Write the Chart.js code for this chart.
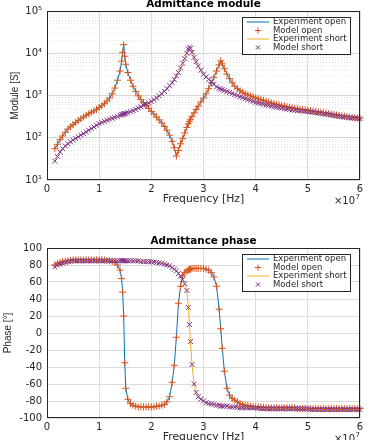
<!DOCTYPE html>
<html>
<head>
<meta charset="utf-8">
<script src="https://cdn.jsdelivr.net/npm/chart.js@4.4.0/dist/chart.umd.min.js"></script>
<style>
html, body { margin: 0; padding: 0; background: #fff; }
#wrap { position: relative; width: 367px; height: 440px; overflow: hidden; }
.box { position: absolute; left: 0; width: 367px; height: 220px; }
</style>
</head>
<body>
<div id="wrap">
  <div class="box" style="top:0"><canvas id="modChart" width="367" height="220"></canvas></div>
  <div class="box" style="top:220px"><canvas id="phaseChart" width="367" height="220"></canvas></div>
</div>
<script>
// frequency in units of 1e7 Hz
const freq = [0.15, 0.2, 0.25, 0.3, 0.35, 0.4, 0.45, 0.5, 0.55, 0.6,
  0.65, 0.7, 0.75, 0.8, 0.85, 0.9, 0.95, 1.0, 1.05, 1.1,
  1.15, 1.2, 1.25, 1.3,
  1.35, 1.4, 1.43, 1.45, 1.47, 1.49, 1.51, 1.55, 1.6, 1.65,
  1.7, 1.75, 1.8, 1.85, 1.9, 1.95, 2.0, 2.05, 2.1, 2.15,
  2.2, 2.25, 2.3, 2.35, 2.4, 2.44, 2.48, 2.52, 2.56, 2.6,
  2.64, 2.68, 2.71, 2.73, 2.75, 2.78, 2.82, 2.86, 2.9, 2.95,
  3.0, 3.05, 3.1, 3.15, 3.2, 3.25, 3.3, 3.33, 3.36, 3.4,
  3.45,
  3.5, 3.55, 3.6, 3.65, 3.7, 3.75, 3.8, 3.85, 3.9, 3.95,
  4.0, 4.05, 4.1, 4.15, 4.2, 4.25, 4.3, 4.35, 4.4, 4.45,
  4.5, 4.55, 4.6, 4.65, 4.7, 4.75, 4.8, 4.85, 4.9, 4.95,
  5.0, 5.05, 5.1, 5.15, 5.2, 5.25, 5.3, 5.35, 5.4, 5.45,
  5.5, 5.55, 5.6, 5.65, 5.7, 5.75, 5.8, 5.85, 5.9, 5.95,
  6.0];

// |Y| in S
const moduleOpen = [55, 70, 90, 110, 135, 160, 182, 205, 230, 255,
  282, 310, 340, 370, 400, 430, 470, 520, 575, 640,
  740, 870, 1100, 1500,
  2300, 3800, 6500, 10500, 16000, 8500, 5500, 3500, 2300, 1650,
  1250, 980, 800, 680, 580, 500, 420, 360, 310, 265,
  225, 185, 150, 115, 82, 58, 37, 50, 72, 95,
  130, 175, 215, 245, 275, 320, 390, 470, 560, 700,
  870, 1100, 1450, 2000, 2700, 3800, 5300, 6600, 5600, 4300,
  3200,
  2500, 2000, 1650, 1450, 1300, 1190, 1100, 1035, 980, 930,
  880, 840, 800, 765, 730, 700, 670, 645, 620, 600,
  580, 562, 545, 530, 515, 502, 490, 479, 468, 458,
  448, 438, 428, 418, 408, 399, 390, 381, 372, 363,
  355, 346, 338, 330, 322, 315, 308, 302, 297, 292,
  288];

const moduleShort = [28, 36, 46, 55, 64, 72, 80, 88, 96, 105,
  115, 125, 137, 150, 165, 180, 197, 215, 230, 245,
  260, 275, 290, 305,
  320, 340, 350, 358, 365, 372, 380, 395, 415, 440,
  470, 505, 540, 580, 620, 665, 720, 795, 880, 980,
  1100, 1260, 1450, 1700, 2000, 2400, 2900, 3500, 4500, 5800,
  7500, 10000, 12500, 14000, 13000, 10500, 8000, 6300, 5000, 3950,
  3200, 2750, 2400, 2100, 1850, 1600, 1480, 1420, 1360, 1300,
  1240,
  1180, 1110, 1050, 995, 940, 890, 840, 800, 760, 725,
  690, 665, 640, 620, 600, 582, 565, 547, 530, 515,
  500, 489, 478, 468, 458, 449, 440, 434, 428, 421,
  415, 407, 400, 392, 385, 377, 370, 362, 355, 345,
  335, 327, 320, 314, 308, 303, 298, 294, 290, 286,
  283];

// phase in degrees
const phaseOpen = [80, 82, 83, 84, 84.5, 85, 85.5, 86, 86, 86,
  86, 86, 86, 86, 86, 86, 86, 86, 86, 86,
  85.5, 85, 84, 83,
  80, 74, 64, 48, 20, -35, -65, -78, -83, -85,
  -86, -87, -87, -87, -87, -87, -87, -87, -86, -86,
  -85, -84, -81, -75, -58, -38, -5, 35, 55, 67,
  71, 73, 74, 75, 75, 76, 76, 76, 76, 76,
  76, 75, 74, 71, 66, 55, 28, 5, -18, -45,
  -65,
  -73, -77, -79, -81, -83, -84, -85, -85.5, -86, -86.5,
  -87, -87, -87, -87.5, -88, -88, -88, -88, -88, -88,
  -88, -88, -88, -88, -88, -88, -89, -89, -89, -89,
  -89, -89, -89, -89, -89, -89, -89, -89, -89, -89,
  -89, -89, -89, -89, -89, -89, -89, -89, -89, -89,
  -89];

const phaseShort = [78, 80, 81, 82, 83, 84, 84.5, 85, 85, 85,
  85, 85, 85, 85, 85, 85, 85, 85, 85, 85,
  85, 85, 85, 85,
  85, 85, 85, 85, 85, 85, 85, 85, 85, 85,
  85, 85, 84, 84, 84, 84, 84, 83.5, 83, 82.5,
  82, 81, 80, 79, 77, 75, 73, 70, 67, 63,
  58, 50, 30, 10, -10, -37, -60, -70, -75, -78,
  -80, -82, -83, -83.5, -84, -85, -85, -86, -86, -86,
  -86,
  -87, -87, -87, -87.5, -88, -88, -88, -88, -88, -88,
  -88, -88.5, -89, -89, -89, -89, -89, -89, -89, -89,
  -89, -89, -89, -89, -89, -89, -89, -89, -89, -89,
  -89, -90, -90, -90, -90, -90, -90, -90, -90, -90,
  -90, -90, -90, -90, -90, -90, -90, -90, -90, -90,
  -90];

const xTicks = [0, 1, 2, 3, 4, 5, 6];
const moduleDecades = [10, 100, 1000, 10000, 100000];
const phaseTicks = [-100, -80, -60, -40, -20, 0, 20, 40, 60, 80, 100];

const fontFam = '"DejaVu Sans", sans-serif';
const textCol = '#262626';
const sup = ['\u2070', '\u00b9', '\u00b2', '\u00b3', '\u2074', '\u2075'];

function pts(ys) {
  return freq.map((f, i) => ({ x: f, y: ys[i] }));
}

function makeDatasets(open, short) {
  return [
    { label: 'Experiment open', data: pts(open), borderColor: '#0072BD', borderWidth: 1,
      pointRadius: 0, order: 4 },
    { label: 'Model open', data: pts(open), borderColor: '#D95319', showLine: false,
      pointStyle: 'cross', pointRadius: 3.5, pointBorderWidth: 1, order: 3, clip: false },
    { label: 'Experiment short', data: pts(short), borderColor: '#EDB120', borderWidth: 1,
      pointRadius: 0, order: 2 },
    { label: 'Model short', data: pts(short), borderColor: '#7E2F8E', showLine: false,
      pointStyle: 'crossRot', pointRadius: 3.5, pointBorderWidth: 1, order: 1, clip: false }
  ];
}

// title, axis labels, box and matlab-like legend
const decor = {
  id: 'decor',
  afterDraw(chart, args, o) {
    const ctx = chart.ctx;
    const a = chart.chartArea;
    const cx = (a.left + a.right) / 2;
    ctx.save();
    ctx.strokeStyle = textCol;
    ctx.lineWidth = 1;
    ctx.strokeRect(Math.round(a.left) + 0.5, Math.round(a.top) + 0.5,
      Math.round(a.right - a.left) - 1, Math.round(a.bottom - a.top) - 1);

    ctx.textBaseline = 'middle';
    ctx.textAlign = 'center';
    ctx.fillStyle = '#000';
    ctx.font = 'bold 10.4px ' + fontFam;
    ctx.fillText(o.title, cx, a.top - 7);

    ctx.fillStyle = textCol;
    ctx.font = '10.8px ' + fontFam;
    ctx.fillText('Frequency [Hz]', cx, a.bottom + 19);

    ctx.textAlign = 'right';
    ctx.font = '10px ' + fontFam;
    ctx.fillText('\u00d710', a.right - 5, a.bottom + 21);
    ctx.font = '7px ' + fontFam;
    ctx.fillText('7', a.right, a.bottom + 17);

    // legend
    const lx = a.right - 118, ly = a.top + 6, lw = 108, lh = 37;
    ctx.fillStyle = '#fff';
    ctx.fillRect(lx, ly, lw, lh);
    ctx.strokeStyle = textCol;
    ctx.strokeRect(lx + 0.5, ly + 0.5, lw, lh);
    ctx.font = '8.5px ' + fontFam;
    ctx.textAlign = 'left';
    chart.data.datasets.forEach((ds, i) => {
      const y = ly + 5 + i * 8.5;
      ctx.strokeStyle = ds.borderColor;
      ctx.lineWidth = 1;
      ctx.beginPath();
      if (ds.showLine === false) {
        const mx = lx + 16, r = 3;
        if (ds.pointStyle === 'cross') {
          ctx.moveTo(mx - r, y); ctx.lineTo(mx + r, y);
          ctx.moveTo(mx, y - r); ctx.lineTo(mx, y + r);
        } else {
          ctx.moveTo(mx - r * 0.7, y - r * 0.7); ctx.lineTo(mx + r * 0.7, y + r * 0.7);
          ctx.moveTo(mx - r * 0.7, y + r * 0.7); ctx.lineTo(mx + r * 0.7, y - r * 0.7);
        }
      } else {
        ctx.moveTo(lx + 5, y); ctx.lineTo(lx + 27, y);
      }
      ctx.stroke();
      ctx.fillStyle = textCol;
      ctx.fillText(ds.label, lx + 31, y);
    });

    ctx.translate(o.ylabX, (a.top + a.bottom) / 2);
    ctx.rotate(-Math.PI / 2);
    ctx.textAlign = 'center';
    ctx.font = '10px "Liberation Sans Narrow", "Liberation Sans", sans-serif';
    ctx.fillStyle = textCol;
    ctx.fillText(o.ylabel, 0, 0);
    ctx.restore();
  }
};

function xScale(h) {
  return {
    type: 'linear', min: 0, max: 6,
    afterBuildTicks: s => { s.ticks = xTicks.map(v => ({ value: v })); },
    afterFit: s => { s.height = h; },
    ticks: { color: textCol, font: { family: fontFam, size: 10 }, padding: 3, maxRotation: 0 },
    grid: { color: '#dcdcdc', drawTicks: false },
    border: { display: false }
  };
}

const isDecade = v => Math.abs(Math.log10(v) - Math.round(Math.log10(v))) < 1e-9;

new Chart(document.getElementById('modChart'), {
  type: 'line',
  data: { datasets: makeDatasets(moduleOpen, moduleShort) },
  options: {
    responsive: false,
    animation: false,
    events: [],
    layout: { padding: { top: 10, right: 7, left: 0, bottom: 0 } },
    plugins: {
      legend: { display: false },
      tooltip: { enabled: false },
      decor: { title: 'Admittance module', ylabel: 'Module [S]', ylabX: 15 }
    },
    scales: {
      x: xScale(40),
      y: {
        type: 'logarithmic', min: 10, max: 100000,
        afterBuildTicks: s => {
          const t = [];
          moduleDecades.forEach((d, i) => {
            if (i === moduleDecades.length - 1) { t.push({ value: d }); return; }
            for (let k = 1; k <= 9; k++) t.push({ value: d * k });
          });
          s.ticks = t;
        },
        afterFit: s => { s.width = 47; },
        ticks: {
          autoSkip: false, color: textCol, padding: 5,
          font: { family: fontFam, size: 10 },
          callback: v => isDecade(v) ? '10' + sup[Math.round(Math.log10(v))] : ''
        },
        grid: {
          drawTicks: false,
          color: c => (c.tick && isDecade(c.tick.value)) ? '#d6d6d6' : '#e6e6e6'
        },
        border: {
          display: false,
          dash: c => (c.tick && !isDecade(c.tick.value)) ? [1, 2] : []
        }
      }
    }
  },
  plugins: [decor]
});

new Chart(document.getElementById('phaseChart'), {
  type: 'line',
  data: { datasets: makeDatasets(phaseOpen, phaseShort) },
  options: {
    responsive: false,
    animation: false,
    events: [],
    layout: { padding: { top: 28, right: 7, left: 0, bottom: 0 } },
    plugins: {
      legend: { display: false },
      tooltip: { enabled: false },
      decor: { title: 'Admittance phase', ylabel: 'Phase [\u00b0]', ylabX: 8 }
    },
    scales: {
      x: xScale(22),
      y: {
        type: 'linear', min: -100, max: 100,
        afterBuildTicks: s => { s.ticks = phaseTicks.map(v => ({ value: v })); },
        afterFit: s => { s.width = 47; },
        ticks: { color: textCol, padding: 5, font: { family: fontFam, size: 10 } },
        grid: { color: '#dcdcdc', drawTicks: false },
        border: { display: false }
      }
    }
  },
  plugins: [decor]
});
</script>
</body>
</html>
